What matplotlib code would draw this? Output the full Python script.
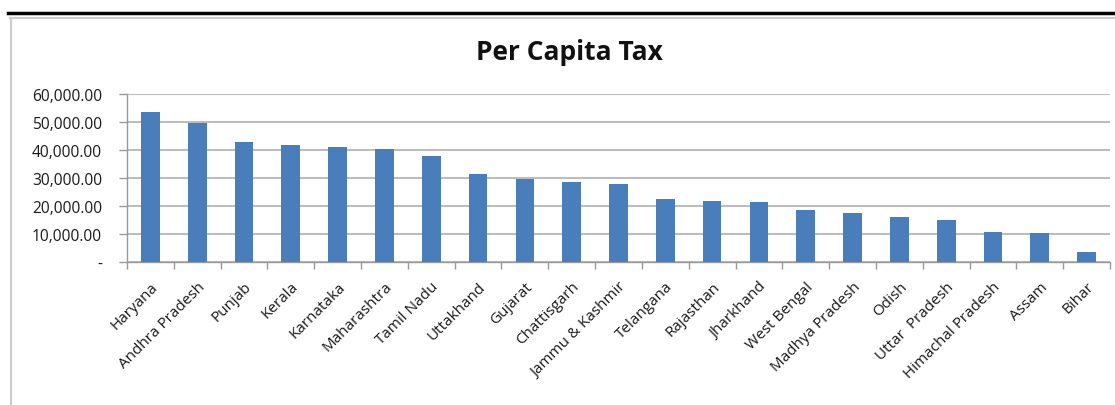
import matplotlib
matplotlib.use("Agg")
import matplotlib.pyplot as plt
from matplotlib.lines import Line2D
from matplotlib.ticker import FuncFormatter, MultipleLocator, FixedLocator

plt.rcParams['font.family'] = ['Open Sans', 'DejaVu Sans']

states = ['Haryana', 'Andhra Pradesh', 'Punjab', 'Kerala', 'Karnataka',
          'Maharashtra', 'Tamil Nadu', 'Uttakhand', 'Gujarat', 'Chattisgarh',
          'Jammu & Kashmir', 'Telangana', 'Rajasthan', 'Jharkhand',
          'West Bengal', 'Madhya Pradesh', 'Odish', 'Uttar  Pradesh',
          'Himachal Pradesh', 'Assam', 'Bihar']
per_capita_tax = [53600, 49600, 42700, 41700, 41100, 40200, 37700, 31400,
                  29800, 28500, 27700, 22400, 21800, 21300, 18600, 17600,
                  16200, 15200, 10900, 10300, 3650]

bar_color = '#4a7ebb'
grid_color = '#bdbdbd'

fig = plt.figure(figsize=(11.15, 4.06), dpi=100)
ax = fig.add_axes([0.1139, 0.352, 0.8816, 0.414])

x = range(len(states))
ax.bar(x, per_capita_tax, width=0.4, color=bar_color, zorder=3)

ax.set_xlim(-0.5, len(states) - 0.5)
ax.set_ylim(0, 60000)
ax.yaxis.set_major_locator(MultipleLocator(10000))
ax.yaxis.set_major_formatter(
    FuncFormatter(lambda v, pos: '-' if v == 0 else '{:,.2f}'.format(v)))
ax.grid(axis='y', color=grid_color, linewidth=1.5, zorder=0)

# category labels centred under bars, tick marks between categories
ax.set_xticks(list(x))
ax.set_xticklabels(states, rotation=45, ha='right', rotation_mode='anchor',
                   fontsize=11, color='#1a1a1a')
ax.tick_params(axis='x', length=0, pad=12)
ax.xaxis.set_minor_locator(FixedLocator([i - 0.5 for i in range(len(states) + 1)]))
ax.tick_params(axis='x', which='minor', length=5, color='#999999', width=1)
ax.tick_params(axis='y', length=6, color='#999999', width=1,
               labelsize=11.2, labelcolor='#1a1a1a', pad=12)

for side in ['top', 'right']:
    ax.spines[side].set_visible(False)
for side in ['left', 'bottom']:
    ax.spines[side].set_color('#999999')
    ax.spines[side].set_linewidth(1)

fig.text(569 / 1115, 1 - 53 / 406, 'Per Capita Tax', ha='center', va='center',
         fontsize=19, fontweight='bold', color='#111111')

# outer frame: heavy black rule on top, light border on top and left
fig.add_artist(Line2D([8 / 1115, 1], [1 - 14 / 406] * 2, color='black', linewidth=2.5))
fig.add_artist(Line2D([10 / 1115, 1], [1 - 19 / 406] * 2, color='#cccccc', linewidth=1.5))
fig.add_artist(Line2D([10.5 / 1115] * 2, [0, 1 - 19 / 406], color='#cccccc', linewidth=1.5))

fig.savefig('out.png', dpi=100)
